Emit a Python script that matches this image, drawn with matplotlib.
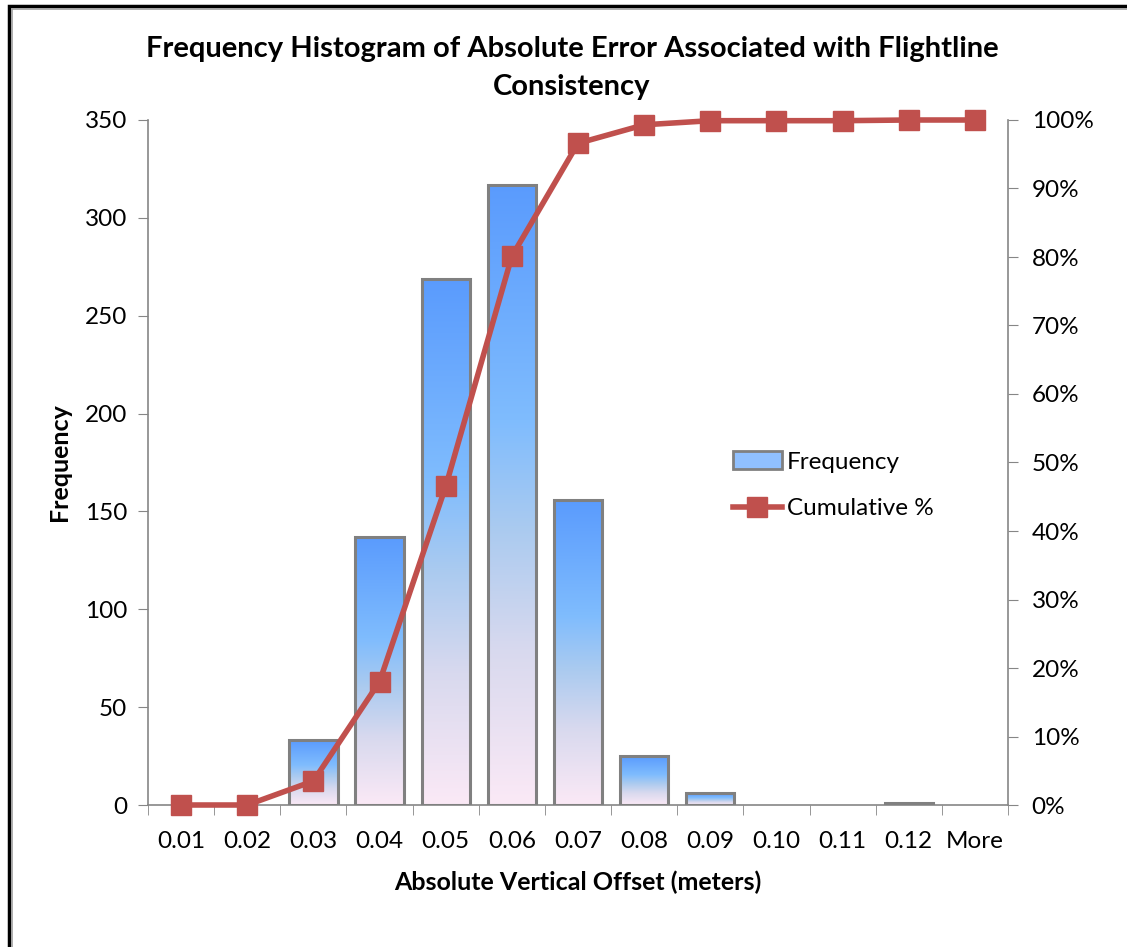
import numpy as np
import matplotlib
matplotlib.use('Agg')
from matplotlib import pyplot as plt
from matplotlib.colors import LinearSegmentedColormap
from matplotlib.patches import Rectangle, Patch
from matplotlib.lines import Line2D
from matplotlib.ticker import FuncFormatter, MultipleLocator

plt.rcParams['font.family'] = ['Lato', 'DejaVu Sans']

bins = ['0.01', '0.02', '0.03', '0.04', '0.05', '0.06', '0.07',
        '0.08', '0.09', '0.10', '0.11', '0.12', 'More']
frequency = [0, 0, 33, 137, 269, 317, 156, 25, 6, 0, 0, 1, 0]
cumulative = [0.0, 0.0, 3.5, 18.0, 46.5, 80.1, 96.6, 99.3, 99.9, 99.9, 99.9, 100.0, 100.0]

grad = LinearSegmentedColormap.from_list(
    'bar', [(0.0, '#fbe9f6'), (0.25, '#d8d9ee'), (0.45, '#a9caf0'),
            (0.62, '#7fbcfe'), (1.0, '#5a9bfd')])
edge = '#808080'
red = '#c0504d'
axis_gray = '#868686'

fig = plt.figure(figsize=(11.27, 9.47), dpi=100)
ax = fig.add_axes([148 / 1127, 142 / 947, 860 / 1127, 685 / 947])
x = np.arange(len(bins))
width = 0.73

bars = ax.bar(x, frequency, width, facecolor='none', edgecolor=edge,
              linewidth=2.2, zorder=3)
g = np.linspace(0, 1, 256).reshape(-1, 1)
for b, v in zip(bars, frequency):
    if v == 0:
        b.set_visible(False)
        continue
    x0, y0 = b.get_x(), b.get_y()
    im = ax.imshow(g, cmap=grad, origin='lower', aspect='auto',
                   extent=[x0, x0 + b.get_width(), y0, y0 + b.get_height()],
                   zorder=2)
    im.set_clip_path(b)

ax.set_xlim(-0.5, len(bins) - 0.5)
ax.set_ylim(0, 350)
ax.yaxis.set_major_locator(MultipleLocator(50))
ax.set_xticks(x)
ax.set_xticklabels(bins)
ax.set_xticks(np.arange(-0.5, len(bins), 1), minor=True)
ax.tick_params(axis='x', which='major', length=0, pad=19, labelsize=17.5)
ax.tick_params(axis='x', which='minor', length=7, color=axis_gray, direction='out')
ax.tick_params(axis='y', length=7, color=axis_gray, labelsize=17.5, pad=8)
for s in ['top', 'right']:
    ax.spines[s].set_visible(False)
for s in ['left', 'bottom']:
    ax.spines[s].set_color(axis_gray)
    ax.spines[s].set_linewidth(1.2)

ax.set_xlabel('Absolute Vertical Offset (meters)', fontsize=18,
              fontweight='bold', labelpad=13)
ax.set_ylabel('Frequency', fontsize=18, fontweight='bold', labelpad=10)

ax2 = ax.twinx()
ax2.plot(x, cumulative, color=red, linewidth=4, marker='s', markersize=15,
         markeredgecolor=red, zorder=5, clip_on=False)
ax2.set_ylim(0, 100)
ax2.yaxis.set_major_locator(MultipleLocator(10))
ax2.yaxis.set_major_formatter(FuncFormatter(lambda v, p: '%d%%' % v))
ax2.tick_params(axis='y', length=7, color=axis_gray, labelsize=17.5, pad=10)
for s in ['top', 'left', 'bottom']:
    ax2.spines[s].set_visible(False)
ax2.spines['right'].set_color(axis_gray)
ax2.spines['right'].set_linewidth(1.2)

handles = [Patch(facecolor='#90c0ff', edgecolor=edge, linewidth=2),
           Line2D([], [], color=red, linewidth=4, marker='s', markersize=14)]
ax2.legend(handles, ['Frequency', 'Cumulative %'], loc='upper left',
           bbox_to_anchor=(0.655, 0.548), frameon=False, fontsize=17.5,
           handlelength=2.0, handletextpad=0.2, labelspacing=1.05)

fig.text(572 / 1127, 1 - 68 / 947,
         'Frequency Histogram of Absolute Error Associated with Flightline\nConsistency',
         ha='center', va='center', fontsize=21, fontweight='bold',
         linespacing=1.6)

# chart frame (cropped at right and bottom)
fig.patches.append(Rectangle((9 / 1127, -0.1), 1.2, 1.1 - 6 / 947,
                             transform=fig.transFigure, fill=False,
                             edgecolor='black', linewidth=2.5))
fig.patches.append(Rectangle((12 / 1127, -0.1), 1.2, 1.1 - 9 / 947,
                             transform=fig.transFigure, fill=False,
                             edgecolor='#a0a0a0', linewidth=1.2))

fig.savefig('out.png', dpi=100)
